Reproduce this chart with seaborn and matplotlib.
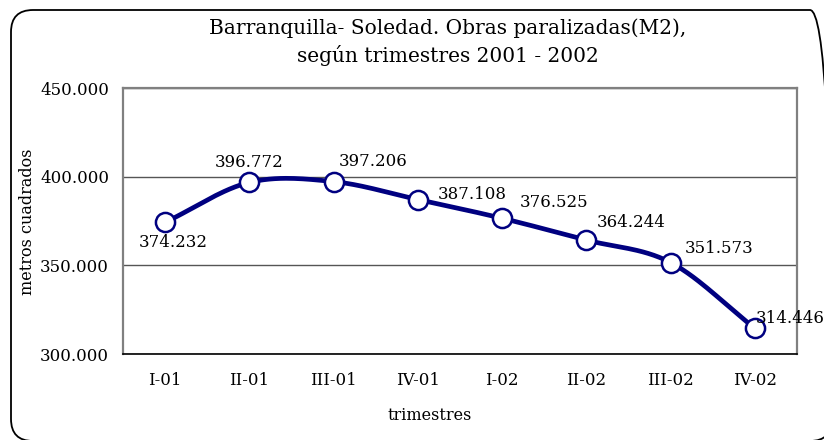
import numpy as np
import pandas as pd
import matplotlib
matplotlib.use("Agg")
import matplotlib.pyplot as plt
import seaborn as sns
from matplotlib.patches import FancyBboxPatch
from matplotlib.ticker import FuncFormatter, FixedLocator
from matplotlib.transforms import IdentityTransform

# data
trimestres = ["I-01", "II-01", "III-01", "IV-01", "I-02", "II-02", "III-02", "IV-02"]
metros = [374232, 396772, 397206, 387108, 376525, 364244, 351573, 314446]
etiquetas = ["374.232", "396.772", "397.206", "387.108", "376.525", "364.244", "351.573", "314.446"]

# label offsets (pixels) relative to each point
label_offsets = [(8, -20, "center"), (0, 20, "center"), (40, 20, "center"), (54, 5, "center"),
                 (52, 16, "center"), (45, 18, "center"), (48, 14, "center"), (1, 10, "left")]

NAVY = "#000080"


def catmull_rom(y, n=30):
    """Smooth curve through the points (Excel-style smoothed line)."""
    y = np.asarray(y, dtype=float)
    xs, ys = [], []
    for i in range(len(y) - 1):
        p0 = y[i - 1] if i > 0 else y[i]
        p1, p2 = y[i], y[i + 1]
        p3 = y[i + 2] if i + 2 < len(y) else y[i + 1]
        m1 = (p2 - p0) / 2 if i > 0 else (p2 - p1)
        m2 = (p3 - p1) / 2 if i + 2 < len(y) else (p2 - p1)
        t = np.linspace(0, 1, n, endpoint=False)
        h00 = 2 * t**3 - 3 * t**2 + 1
        h10 = t**3 - 2 * t**2 + t
        h01 = -2 * t**3 + 3 * t**2
        h11 = t**3 - t**2
        xs.append(i + t)
        ys.append(h00 * p1 + h10 * m1 + h01 * p2 + h11 * m2)
    xs.append([len(y) - 1])
    ys.append([y[-1]])
    return np.concatenate(xs), np.concatenate(ys)


sns.set_theme(style="white")
plt.rcParams["font.family"] = ["DejaVu Serif"]
plt.rcParams["text.color"] = "black"
plt.rcParams["xtick.color"] = "black"
plt.rcParams["ytick.color"] = "black"

fig = plt.figure(figsize=(8.24, 4.4), dpi=100)
ax = fig.add_axes([123 / 824, 1 - 354 / 440, 674 / 824, 266 / 440])

df = pd.DataFrame({"pos": np.arange(len(trimestres)), "m2": metros})
sx, sy = catmull_rom(metros)
sns.lineplot(x=sx, y=sy, ax=ax, color=NAVY, lw=3.4, zorder=3)
sns.scatterplot(data=df, x="pos", y="m2", ax=ax, s=190, color="white",
                edgecolor=NAVY, linewidth=1.8, zorder=4)

for i, (lbl, (dx, dy, ha)) in enumerate(zip(etiquetas, label_offsets)):
    ax.annotate(lbl, (i, metros[i]), xytext=(dx, dy), textcoords="offset pixels",
                ha=ha, va="center", fontsize=12, color="black", zorder=5,
                annotation_clip=False)

ax.set_xlim(-0.5, len(trimestres) - 0.5)
ax.set_ylim(300000, 450000)
ax.set_yticks([300000, 350000, 400000, 450000])
ax.yaxis.set_major_formatter(FuncFormatter(lambda v, p: f"{v:,.0f}".replace(",", ".")))
ax.set_xticks(range(len(trimestres)))
ax.set_xticklabels(trimestres)
ax.xaxis.set_minor_locator(FixedLocator(np.arange(-0.5, len(trimestres), 1.0)))
ax.tick_params(axis="x", which="major", length=0, pad=13, labelsize=12)
ax.tick_params(axis="x", which="minor", length=5, width=1, color="black", direction="out")
ax.tick_params(axis="y", length=0, pad=10, labelsize=12)
ax.set_xlabel("")
ax.set_ylabel("")

ax.yaxis.grid(True, color="#555555", lw=1)
ax.xaxis.grid(False)
for side in ["left", "top", "right"]:
    ax.spines[side].set_color("#808080")
    ax.spines[side].set_linewidth(1.6)
ax.spines["bottom"].set_color("black")
ax.spines["bottom"].set_linewidth(1.2)

fig.text(448 / 824, 1 - 42 / 440,
         "Barranquilla- Soledad. Obras paralizadas(M2),\nsegún trimestres 2001 - 2002",
         ha="center", va="center", fontsize=14.5, linespacing=1.38)
fig.text(430 / 824, 1 - 415 / 440, "trimestres", ha="center", va="center", fontsize=11.5)
fig.text(28 / 824, 1 - 222 / 440, "metros cuadrados", ha="center", va="center",
         rotation=90, fontsize=11.5)

frame = FancyBboxPatch((11, -1), 821, 431, boxstyle="round,pad=0,rounding_size=22",
                       transform=IdentityTransform(), fill=False, edgecolor="black",
                       lw=1.3, clip_on=False)
fig.add_artist(frame)

fig.savefig("out.png", dpi=100)
